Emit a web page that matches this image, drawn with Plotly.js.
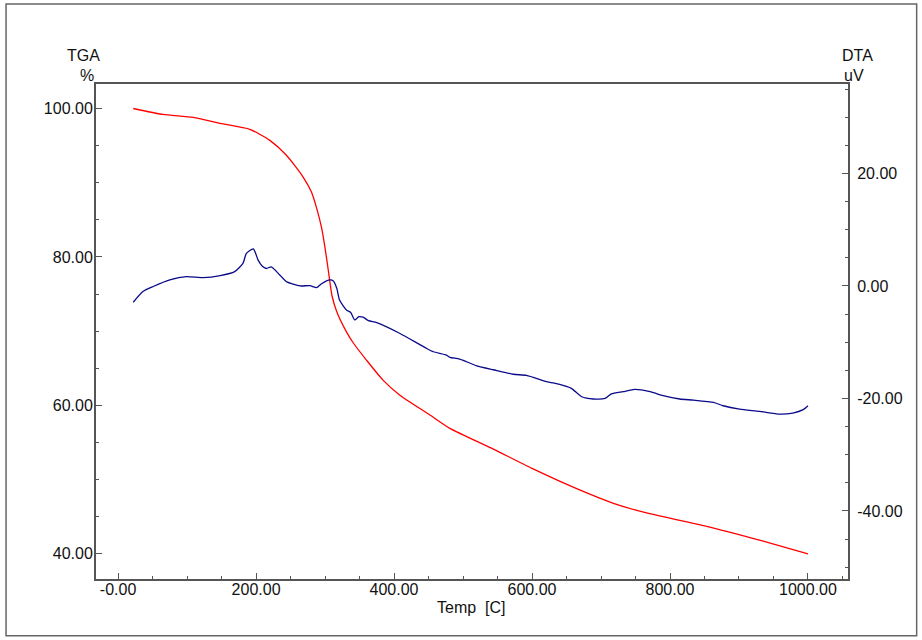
<!DOCTYPE html>
<html>
<head>
<meta charset="utf-8">
<script src="https://cdn.plot.ly/plotly-3.0.1.min.js"></script>
<style>
html,body{margin:0;padding:0;background:#fff;}
#chart{width:922px;height:640px;}
</style>
</head>
<body>
<div id="chart"></div>
<script>
// TGA curve (%), temperature in C
const tgaTemp = [22, 65, 109, 148, 191, 220, 244, 268, 280, 288, 295, 300, 305, 310, 317, 331, 341, 360, 384, 408, 452, 481, 544, 600, 669, 718, 766, 862, 935, 1000];
const tgaValues = [100.0, 99.2, 98.8, 98.0, 97.2, 95.7, 93.7, 90.8, 88.8, 86.5, 83.9, 81.2, 78.0, 74.8, 72.6, 69.9, 68.4, 66.1, 63.4, 61.4, 58.7, 56.9, 54.1, 51.5, 48.6, 46.8, 45.5, 43.5, 41.7, 40.0];

// DTA curve (uV)
const dtaTemp = [22, 36, 51, 75, 99, 123, 148, 169, 181, 186, 196, 203, 210, 215, 222, 234, 244, 264, 278, 288, 295, 307, 312, 317, 321, 331, 337, 343, 349, 355, 363, 375, 408, 447, 457, 476, 481, 495, 520, 544, 573, 592, 621, 640, 657, 672, 689, 706, 715, 732, 749, 771, 790, 814, 834, 863, 877, 901, 930, 959, 978, 993, 1000];
const dtaValues = [-2.9, -1.0, -0.1, 1.07, 1.66, 1.48, 1.84, 2.55, 4.0, 5.8, 6.6, 4.6, 3.4, 3.1, 3.4, 2.0, 0.77, 0.0, 0.06, -0.3, 0.4, 1.07, 0.9, -0.41, -2.5, -4.27, -4.68, -6.04, -5.46, -5.56, -6.17, -6.52, -8.41, -11.1, -11.7, -12.3, -12.7, -13.0, -14.2, -14.9, -15.7, -15.9, -17.0, -17.5, -18.2, -19.7, -20.1, -20.0, -19.2, -18.8, -18.4, -18.8, -19.5, -20.1, -20.3, -20.7, -21.3, -21.9, -22.3, -22.8, -22.6, -22.0, -21.3];

// Tick labels
const xTickVals = [0, 200, 400, 600, 800, 1000];
const xTickText = ["-0.00", "200.00", "400.00", "600.00", "800.00", "1000.00"];
const tgaTickVals = [40, 60, 80, 100];
const tgaTickText = ["40.00", "60.00", "80.00", "100.00"];
const dtaTickVals = [-40, -20, 0, 20];
const dtaTickText = ["-40.00", "-20.00", "0.00", "20.00"];

const FONT = "Liberation Sans, Arial, Helvetica, sans-serif";
const AX = "#555555";
const fs = 16;

const traces = [
  {x: tgaTemp, y: tgaValues, type: "scatter", mode: "lines", name: "TGA",
   line: {color: "#ff0000", width: 1.3, shape: "spline", smoothing: 0.6}, yaxis: "y"},
  {x: dtaTemp, y: dtaValues, type: "scatter", mode: "lines", name: "DTA",
   line: {color: "#0a0a8a", width: 1.3, shape: "spline", smoothing: 0.6}, yaxis: "y2"}
];

const axCommon = {
  showgrid: false, zeroline: false, showline: true, linecolor: AX, linewidth: 2,
  ticks: "inside", ticklen: 6, tickwidth: 1, tickcolor: AX,
  tickfont: {family: FONT, size: fs, color: "#111"}, tickmode: "array"
};

const layout = {
  width: 922, height: 640,
  margin: {l: 96, r: 74, t: 84, b: 61, pad: 0},
  paper_bgcolor: "#ffffff", plot_bgcolor: "#ffffff",
  showlegend: false,
  font: {family: FONT, size: fs, color: "#111"},
  xaxis: Object.assign({}, axCommon, {
    range: [-32, 1058], tickvals: xTickVals, ticktext: xTickText, mirror: true,
    ticklabelstandoff: -5,
    minor: {tickmode: "linear", tick0: 0, dtick: 50, ticks: "inside", ticklen: 3, tickcolor: AX}
  }),
  yaxis: Object.assign({}, axCommon, {
    range: [36.6, 103.3], tickvals: tgaTickVals, ticktext: tgaTickText,
    ticklabelstandoff: -2,
    minor: {tickmode: "linear", tick0: 0, dtick: 5, ticks: "inside", ticklen: 3, tickcolor: AX}
  }),
  yaxis2: Object.assign({}, axCommon, {
    range: [-52.1, 35.9], tickvals: dtaTickVals, ticktext: dtaTickText,
    overlaying: "y", side: "right", ticklabelstandoff: 4,
    minor: {tickmode: "linear", tick0: 0, dtick: 5, ticks: "inside", ticklen: 3, tickcolor: AX}
  }),
  annotations: [
    {text: "TGA", xref: "paper", yref: "paper", x: -0.0169, y: 1.0585, xanchor: "center", yanchor: "middle", showarrow: false, font: {family: FONT, size: fs, color: "#111"}},
    {text: "%", xref: "paper", yref: "paper", x: -0.012, y: 1.018, xanchor: "center", yanchor: "middle", showarrow: false, font: {family: FONT, size: fs, color: "#111"}},
    {text: "DTA", xref: "paper", yref: "paper", x: 1.0125, y: 1.0585, xanchor: "center", yanchor: "middle", showarrow: false, font: {family: FONT, size: fs, color: "#111"}},
    {text: "uV", xref: "paper", yref: "paper", x: 1.0076, y: 1.018, xanchor: "center", yanchor: "middle", showarrow: false, font: {family: FONT, size: fs, color: "#111"}},
    {text: "Temp&nbsp;&nbsp;[C]", xref: "paper", yref: "paper", x: 0.4985, y: -0.058, xanchor: "center", yanchor: "middle", showarrow: false, font: {family: FONT, size: fs, color: "#111"}}
  ],
  shapes: [
    {type: "rect", xref: "paper", yref: "paper", x0: -0.1196, x1: 1.0913, y0: -0.1145, y1: 1.1616,
     line: {color: "#666666", width: 1.5}, fillcolor: "rgba(0,0,0,0)", layer: "below"}
  ]
};

Plotly.newPlot("chart", traces, layout, {displayModeBar: false, staticPlot: true});
</script>
</body>
</html>
